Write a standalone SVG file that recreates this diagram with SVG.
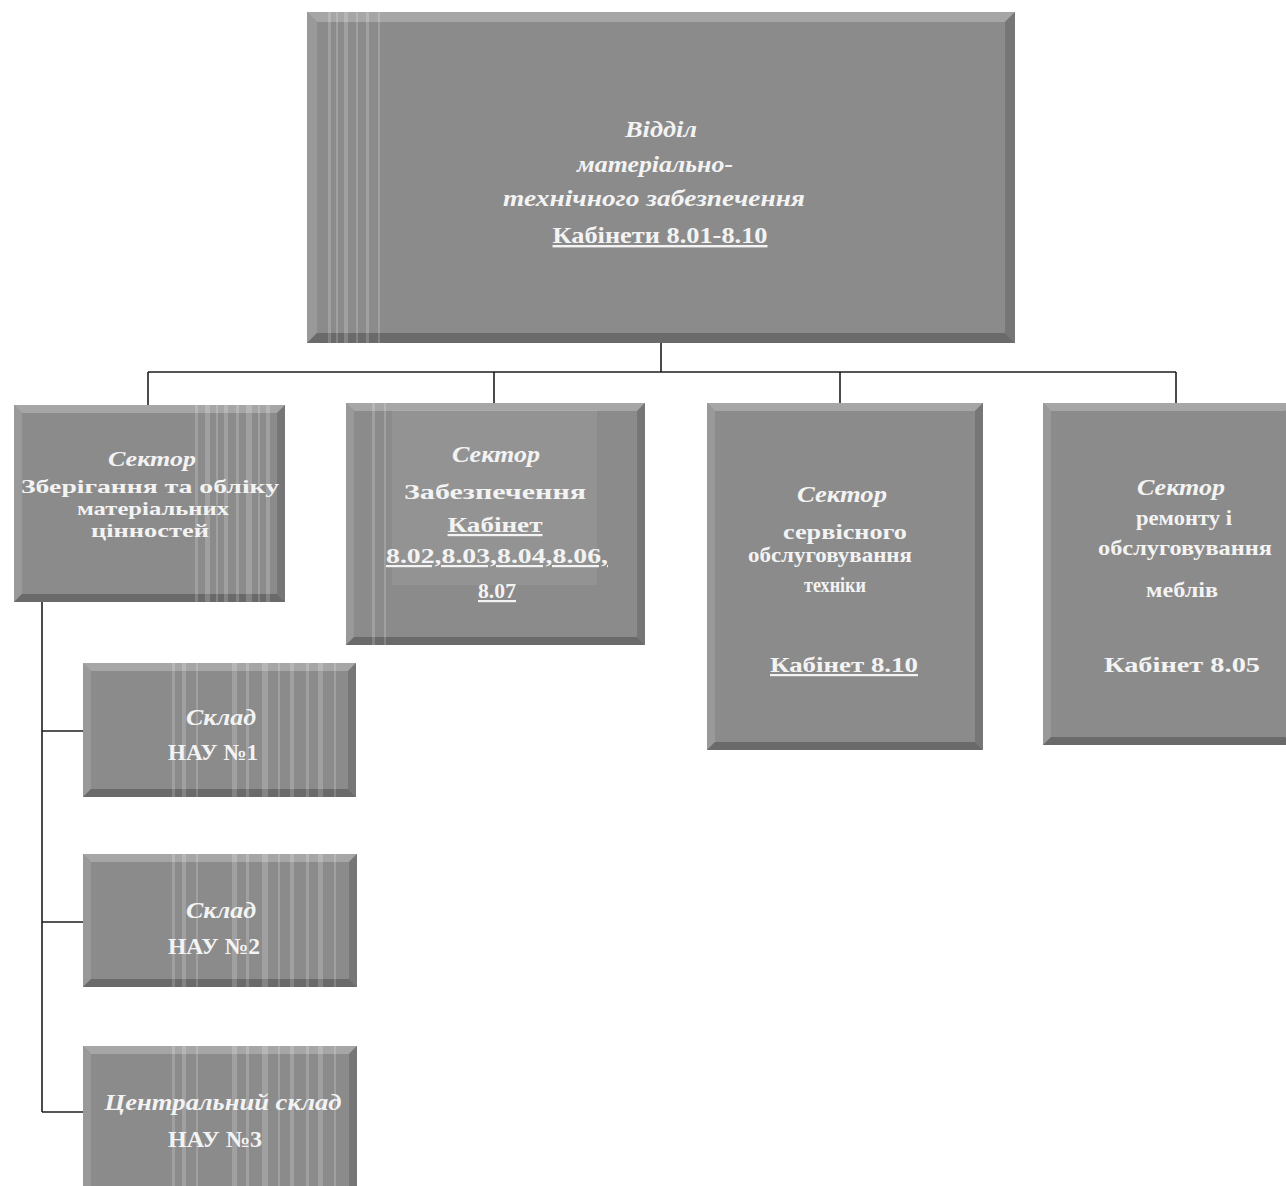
<svg xmlns="http://www.w3.org/2000/svg" width="1286" height="1186" viewBox="0 0 1286 1186">
<style>
.bg{fill:#8b8b8b}
.bt{fill:#a6a6a6}
.bl{fill:#999999}
.br{fill:#767676}
.bb{fill:#6a6a6a}
.st{fill:#ffffff;opacity:0.18}
.t{font-family:"Liberation Serif","Times New Roman",serif;font-weight:bold;fill:#f3f3f3;text-anchor:middle}
.i{font-style:italic}
.u{text-decoration:underline}
.c{stroke:#1e1e1e;stroke-width:1.6;fill:none}
</style>
<rect width="1286" height="1186" fill="#ffffff"/>
<g id="connectors">
<path class="c" d="M661 343V372M148 372H1176M148 372V405M494 372V403M840 372V403M1176 372V403"/>
<path class="c" d="M42 602V1112M42 731H83M42 922H83M42 1112H83"/>
</g>
<g id="node-top">
<rect class="bg" x="307" y="12" width="708" height="331"/>
<polygon class="bt" points="307,12 1015,12 1005,22 317,22"/>
<polygon class="bl" points="307,12 317,22 317,333 307,343"/>
<polygon class="br" points="1015,12 1015,343 1005,333 1005,22"/>
<polygon class="bb" points="307,343 1015,343 1005,333 317,333"/>
<rect class="st" x="328" y="12" width="3" height="331"/>
<rect class="st" x="336" y="12" width="2" height="331"/>
<rect class="st" x="344" y="12" width="4" height="331"/>
<rect class="st" x="356" y="12" width="2" height="331"/>
<rect class="st" x="366" y="12" width="3" height="331"/>
<rect class="st" x="378" y="12" width="2" height="331"/>
<text class="t i" x="661" y="137" font-size="24" textLength="72" lengthAdjust="spacingAndGlyphs">Відділ</text>
<text class="t i" x="655" y="172" font-size="24" textLength="156" lengthAdjust="spacingAndGlyphs">матеріально-</text>
<text class="t i" x="654" y="206" font-size="24" textLength="302" lengthAdjust="spacingAndGlyphs">технічного забезпечення</text>
<text class="t u" x="660" y="243" font-size="24" textLength="215" lengthAdjust="spacingAndGlyphs">Кабінети 8.01-8.10</text>
</g>
<g id="node-s1">
<rect class="bg" x="14" y="405" width="271" height="197"/>
<polygon class="bt" points="14,405 285,405 277,413 22,413"/>
<polygon class="bl" points="14,405 22,413 22,594 14,602"/>
<polygon class="br" points="285,405 285,602 277,594 277,413"/>
<polygon class="bb" points="14,602 285,602 277,594 22,594"/>
<rect class="st" x="195" y="405" width="3" height="197"/>
<rect class="st" x="205" y="405" width="5" height="197"/>
<rect class="st" x="216" y="405" width="2" height="197"/>
<rect class="st" x="224" y="405" width="4" height="197"/>
<rect class="st" x="236" y="405" width="3" height="197"/>
<rect class="st" x="246" y="405" width="6" height="197"/>
<rect class="st" x="258" y="405" width="2" height="197"/>
<rect class="st" x="266" y="405" width="4" height="197"/>
<text class="t i" x="152" y="466" font-size="22" textLength="88" lengthAdjust="spacingAndGlyphs">Сектор</text>
<text class="t" x="150" y="493" font-size="19" textLength="258" lengthAdjust="spacingAndGlyphs">Зберігання та обліку</text>
<text class="t" x="153" y="515" font-size="19" textLength="152" lengthAdjust="spacingAndGlyphs">матеріальних</text>
<text class="t" x="150" y="537" font-size="19" textLength="118" lengthAdjust="spacingAndGlyphs">цінностей</text>
</g>
<g id="node-s2">
<rect class="bg" x="346" y="403" width="299" height="242"/>
<polygon class="bt" points="346,403 645,403 637,411 354,411"/>
<polygon class="bl" points="346,403 354,411 354,637 346,645"/>
<polygon class="br" points="645,403 645,645 637,637 637,411"/>
<polygon class="bb" points="346,645 645,645 637,637 354,637"/>
<rect class="st" x="372" y="403" width="3" height="242"/>
<rect class="st" x="384" y="403" width="2" height="242"/>
<rect x="392" y="410" width="205" height="175" fill="#ffffff" opacity="0.07"/>
<text class="t i" x="496" y="462" font-size="23" textLength="88" lengthAdjust="spacingAndGlyphs">Сектор</text>
<text class="t" x="495" y="499" font-size="22" textLength="182" lengthAdjust="spacingAndGlyphs">Забезпечення</text>
<text class="t u" x="495" y="532" font-size="22" textLength="95" lengthAdjust="spacingAndGlyphs">Кабінет</text>
<text class="t u" x="497" y="563" font-size="22" textLength="222" lengthAdjust="spacingAndGlyphs">8.02,8.03,8.04,8.06,</text>
<text class="t u" x="497" y="598" font-size="22" textLength="38" lengthAdjust="spacingAndGlyphs">8.07</text>
</g>
<g id="node-s3">
<rect class="bg" x="707" y="403" width="276" height="347"/>
<polygon class="bt" points="707,403 983,403 975,411 715,411"/>
<polygon class="bl" points="707,403 715,411 715,742 707,750"/>
<polygon class="br" points="983,403 983,750 975,742 975,411"/>
<polygon class="bb" points="707,750 983,750 975,742 715,742"/>
<text class="t i" x="842" y="502" font-size="23" textLength="90" lengthAdjust="spacingAndGlyphs">Сектор</text>
<text class="t" x="845" y="539" font-size="22" textLength="124" lengthAdjust="spacingAndGlyphs">сервісного</text>
<text class="t" x="830" y="562" font-size="22" textLength="164" lengthAdjust="spacingAndGlyphs">обслуговування</text>
<text class="t" x="835" y="592" font-size="22" textLength="62" lengthAdjust="spacingAndGlyphs">техніки</text>
<text class="t u" x="844" y="672" font-size="22" textLength="148" lengthAdjust="spacingAndGlyphs">Кабінет 8.10</text>
</g>
<g id="node-s4">
<rect class="bg" x="1043" y="403" width="250" height="342"/>
<polygon class="bt" points="1043,403 1293,403 1285,411 1051,411"/>
<polygon class="bl" points="1043,403 1051,411 1051,737 1043,745"/>
<polygon class="bb" points="1043,745 1293,745 1285,737 1051,737"/>
<text class="t i" x="1181" y="495" font-size="23" textLength="88" lengthAdjust="spacingAndGlyphs">Сектор</text>
<text class="t" x="1184" y="525" font-size="22" textLength="96" lengthAdjust="spacingAndGlyphs">ремонту і</text>
<text class="t" x="1185" y="555" font-size="22" textLength="174" lengthAdjust="spacingAndGlyphs">обслуговування</text>
<text class="t" x="1182" y="597" font-size="22" textLength="72" lengthAdjust="spacingAndGlyphs">меблів</text>
<text class="t" x="1182" y="672" font-size="22" textLength="156" lengthAdjust="spacingAndGlyphs">Кабінет  8.05</text>
</g>
<g id="node-w1">
<rect class="bg" x="83" y="663" width="273" height="134"/>
<polygon class="bt" points="83,663 356,663 348,671 91,671"/>
<polygon class="bl" points="83,663 91,671 91,789 83,797"/>
<polygon class="br" points="356,663 356,797 348,789 348,671"/>
<polygon class="bb" points="83,797 356,797 348,789 91,789"/>
<rect class="st" x="172" y="663" width="3" height="134"/>
<rect class="st" x="182" y="663" width="4" height="134"/>
<rect class="st" x="196" y="663" width="2" height="134"/>
<rect class="st" x="232" y="663" width="5" height="134"/>
<rect class="st" x="246" y="663" width="3" height="134"/>
<rect class="st" x="262" y="663" width="6" height="134"/>
<rect class="st" x="278" y="663" width="2" height="134"/>
<rect class="st" x="290" y="663" width="4" height="134"/>
<rect class="st" x="306" y="663" width="3" height="134"/>
<rect class="st" x="318" y="663" width="5" height="134"/>
<rect class="st" x="334" y="663" width="2" height="134"/>
<text class="t i" x="221" y="725" font-size="23" textLength="70" lengthAdjust="spacingAndGlyphs">Склад</text>
<text class="t" x="213" y="760" font-size="23" textLength="90" lengthAdjust="spacingAndGlyphs">НАУ №1</text>
</g>
<g id="node-w2">
<rect class="bg" x="83" y="854" width="274" height="133"/>
<polygon class="bt" points="83,854 357,854 349,862 91,862"/>
<polygon class="bl" points="83,854 91,862 91,979 83,987"/>
<polygon class="br" points="357,854 357,987 349,979 349,862"/>
<polygon class="bb" points="83,987 357,987 349,979 91,979"/>
<rect class="st" x="172" y="854" width="3" height="133"/>
<rect class="st" x="182" y="854" width="4" height="133"/>
<rect class="st" x="196" y="854" width="2" height="133"/>
<rect class="st" x="232" y="854" width="5" height="133"/>
<rect class="st" x="246" y="854" width="3" height="133"/>
<rect class="st" x="262" y="854" width="6" height="133"/>
<rect class="st" x="278" y="854" width="2" height="133"/>
<rect class="st" x="290" y="854" width="4" height="133"/>
<rect class="st" x="306" y="854" width="3" height="133"/>
<rect class="st" x="318" y="854" width="5" height="133"/>
<rect class="st" x="334" y="854" width="2" height="133"/>
<text class="t i" x="221" y="918" font-size="23" textLength="70" lengthAdjust="spacingAndGlyphs">Склад</text>
<text class="t" x="214" y="954" font-size="23" textLength="92" lengthAdjust="spacingAndGlyphs">НАУ №2</text>
</g>
<g id="node-w3">
<rect class="bg" x="83" y="1046" width="274" height="150"/>
<polygon class="bt" points="83,1046 357,1046 349,1054 91,1054"/>
<polygon class="bl" points="83,1046 91,1054 91,1196 83,1196"/>
<polygon class="br" points="357,1046 357,1196 349,1196 349,1054"/>
<rect class="st" x="172" y="1046" width="3" height="140"/>
<rect class="st" x="182" y="1046" width="4" height="140"/>
<rect class="st" x="196" y="1046" width="2" height="140"/>
<rect class="st" x="232" y="1046" width="5" height="140"/>
<rect class="st" x="246" y="1046" width="3" height="140"/>
<rect class="st" x="262" y="1046" width="6" height="140"/>
<rect class="st" x="278" y="1046" width="2" height="140"/>
<rect class="st" x="290" y="1046" width="4" height="140"/>
<rect class="st" x="306" y="1046" width="3" height="140"/>
<rect class="st" x="318" y="1046" width="5" height="140"/>
<rect class="st" x="334" y="1046" width="2" height="140"/>
<text class="t i" x="223" y="1110" font-size="23" textLength="237" lengthAdjust="spacingAndGlyphs">Центральний склад</text>
<text class="t" x="215" y="1147" font-size="23" textLength="94" lengthAdjust="spacingAndGlyphs">НАУ №3</text>
</g>
</svg>
